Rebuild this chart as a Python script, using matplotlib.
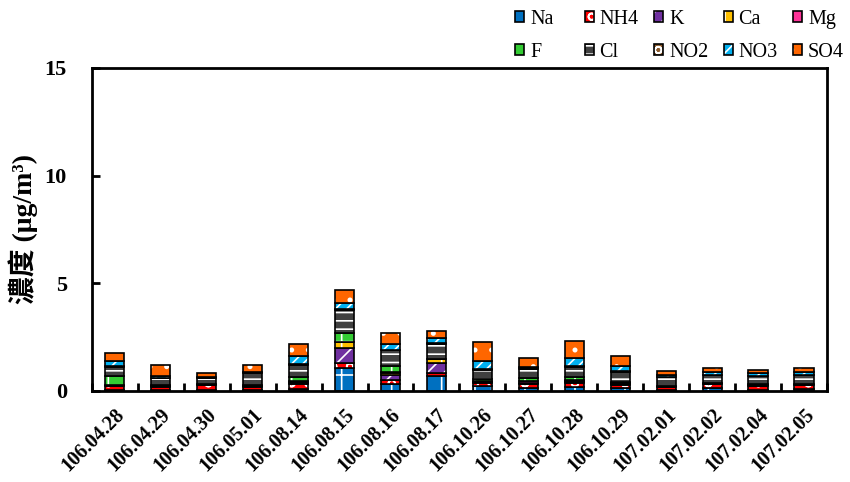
import numpy as np
import matplotlib
matplotlib.use("Agg")
import matplotlib.pyplot as plt
from matplotlib.patches import Patch

plt.rcParams['font.family'] = ['Liberation Serif', 'Noto Sans CJK TC']
plt.rcParams['hatch.linewidth'] = 1.2

# 採樣日期
dates = ["106.04.28", "106.04.29", "106.04.30", "106.05.01", "106.08.14",
         "106.08.15", "106.08.16", "106.08.17", "106.10.26", "106.10.27",
         "106.10.28", "106.10.29", "107.02.01", "107.02.02", "107.02.04",
         "107.02.05"]

# 各離子濃度 (μg/m3)
Na  = [0.03, 0.02, 0.02, 0.02, 0.10, 1.05, 0.30, 0.70, 0.23, 0.15, 0.20, 0.12, 0.03, 0.12, 0.05, 0.08]
NH4 = [0.18, 0.18, 0.24, 0.18, 0.20, 0.26, 0.19, 0.15, 0.15, 0.15, 0.19, 0.15, 0.15, 0.19, 0.18, 0.18]
K   = [0.02, 0.02, 0.01, 0.02, 0.06, 0.67, 0.23, 0.46, 0.03, 0.03, 0.04, 0.03, 0.01, 0.02, 0.02, 0.02]
Ca  = [0.02, 0.02, 0.01, 0.02, 0.06, 0.28, 0.12, 0.15, 0.03, 0.02, 0.04, 0.02, 0.01, 0.02, 0.02, 0.02]
Mg  = [0.02, 0.01, 0.01, 0.01, 0.06, 0.03, 0.05, 0.02, 0.02, 0.10, 0.04, 0.06, 0.01, 0.01, 0.01, 0.01]
F   = [0.43, 0.02, 0.01, 0.02, 0.16, 0.42, 0.26, 0.02, 0.10, 0.17, 0.15, 0.05, 0.02, 0.02, 0.02, 0.02]
Cl  = [0.42, 0.33, 0.31, 0.58, 0.57, 1.05, 0.74, 0.70, 0.43, 0.42, 0.46, 0.46, 0.42, 0.36, 0.38, 0.40]
NO2 = [0.02, 0.02, 0.01, 0.02, 0.02, 0.03, 0.02, 0.02, 0.02, 0.02, 0.02, 0.02, 0.01, 0.01, 0.01, 0.01]
NO3 = [0.23, 0.09, 0.03, 0.02, 0.38, 0.31, 0.26, 0.26, 0.39, 0.05, 0.39, 0.23, 0.08, 0.15, 0.12, 0.12]
SO4 = [0.40, 0.48, 0.20, 0.30, 0.58, 0.60, 0.54, 0.28, 0.88, 0.44, 0.77, 0.46, 0.18, 0.17, 0.17, 0.20]

names = ["Na", "NH4", "K", "Ca", "Mg", "F", "Cl", "NO2", "NO3", "SO4"]
series = [Na, NH4, K, Ca, Mg, F, Cl, NO2, NO3, SO4]
colors = ["#0070C0", "#FF0000", "#7030A0", "#FFC000", "#FF3399",
          "#33CC33", "#404040", "#8B5A2B", "#00B0F0", "#FF6600"]
hatches = ["+", "o", "//", "|", "", "+", "--", "o", "///", "."]

fig = plt.figure(figsize=(8.5, 4.82), dpi=100)
ax = fig.add_axes([0.108, 0.189, 0.865, 0.670])

x = np.arange(len(dates))
w = 0.42
bottom = np.zeros(len(dates))
handles = []
for name, vals, c, h in zip(names, series, colors, hatches):
    vals = np.array(vals)
    ax.bar(x, vals, w, bottom=bottom, color=c, hatch=h, edgecolor="white", linewidth=0)
    ax.bar(x, vals, w, bottom=bottom, fill=False, edgecolor="black", linewidth=1.2)
    handles.append((Patch(facecolor=c, hatch=h, edgecolor="white", linewidth=0),
                    Patch(fill=False, edgecolor="black", linewidth=1.2)))
    bottom += vals

ax.set_xlim(-0.5, len(dates) - 0.5)
ax.set_ylim(0, 15)
ax.set_yticks([0, 5, 10, 15])
ax.set_xticks(x)
ax.set_xticklabels(dates, rotation=45, ha="right", rotation_mode="anchor",
                   fontsize=14.5, fontweight="bold")
ax.tick_params(axis="x", length=0, pad=10)
ax.set_xticks(np.arange(len(dates) + 1) - 0.5, minor=True)
ax.tick_params(axis="x", which="minor", direction="in", length=6, width=2)
ax.tick_params(axis="y", direction="in", length=6, width=2, labelsize=16, pad=18)
for lab in ax.get_yticklabels():
    lab.set_fontweight("bold")
for sp in ax.spines.values():
    sp.set_linewidth(2)
ax.set_ylabel("濃度 (μg/m³)", fontsize=20, fontweight="bold", labelpad=5)

# 圖例：每欄等寬，兩列
for col in range(5):
    idx = [col, col + 5]
    fig.legend([handles[i] for i in idx], [names[i] for i in idx],
               loc="center left", bbox_to_anchor=((515 + 69.5 * col) / 850, 1 - 36 / 482),
               frameon=False, fontsize=14.5, handlelength=0.45, handleheight=0.45,
               handletextpad=0.3, labelspacing=0.7, borderpad=0, borderaxespad=0)

fig.savefig("out.png", dpi=100)
